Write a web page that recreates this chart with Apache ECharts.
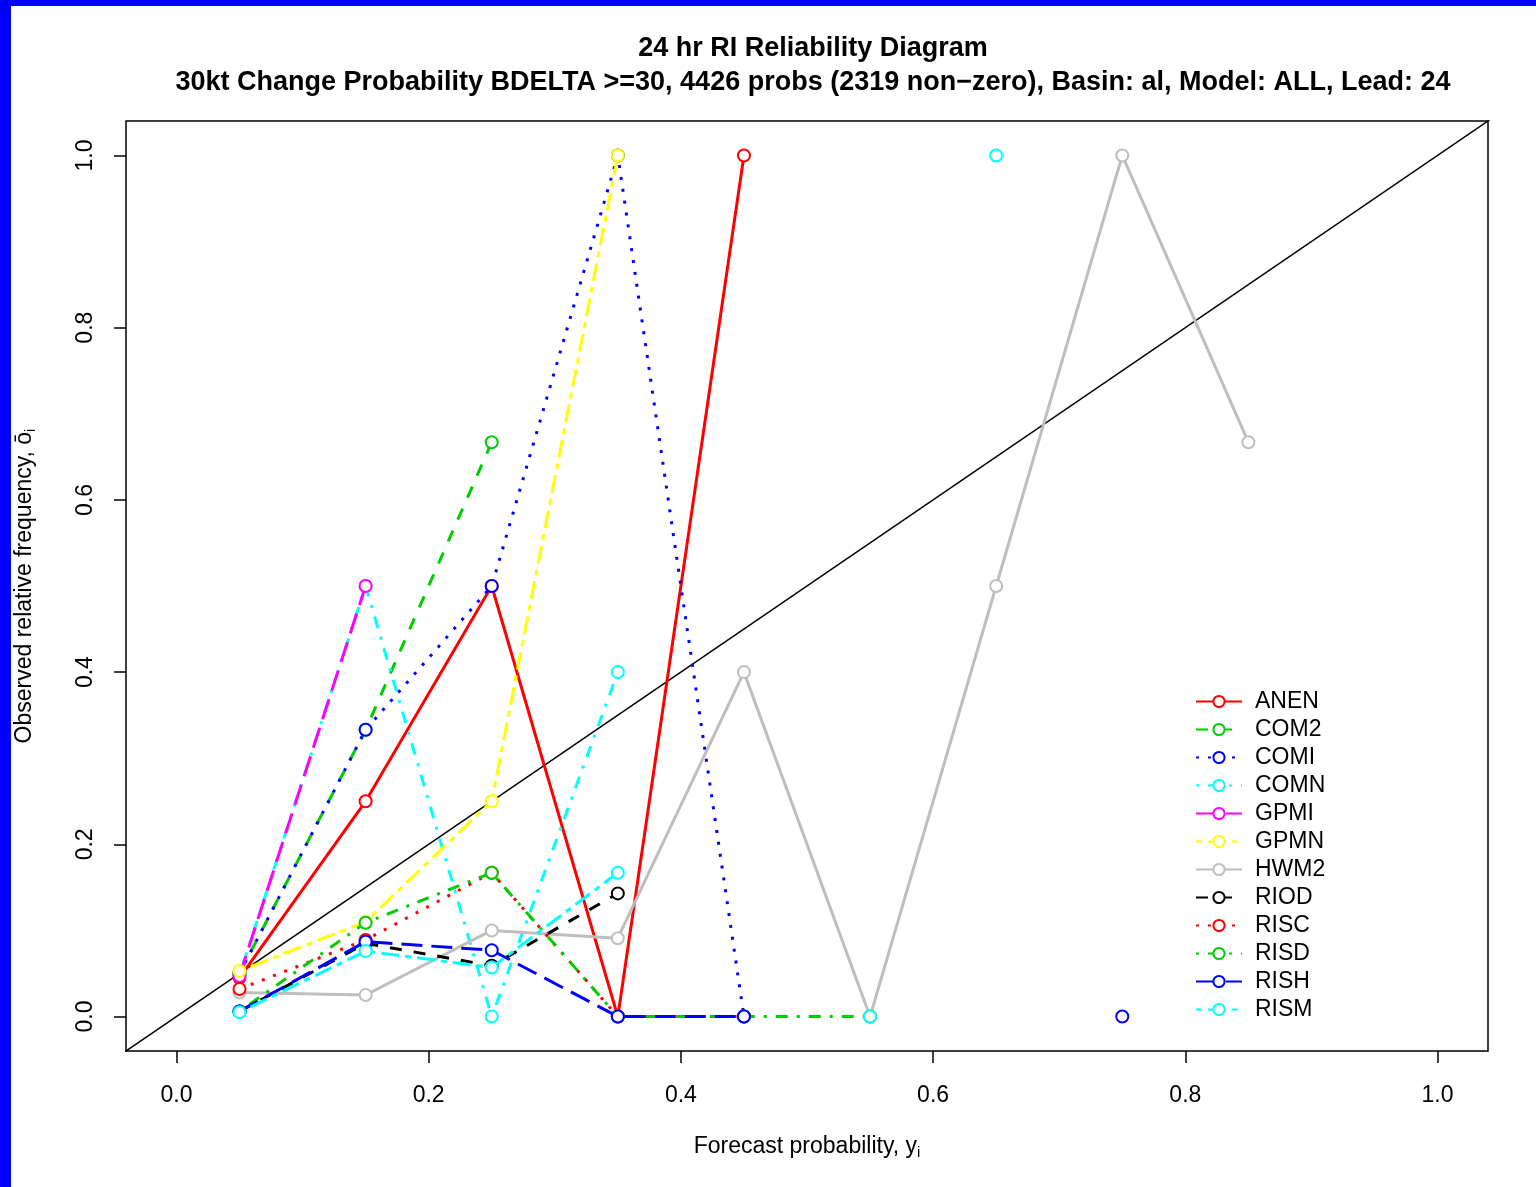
<!DOCTYPE html>
<html>
<head>
<meta charset="utf-8">
<script src="https://cdn.jsdelivr.net/npm/echarts@6/dist/echarts.min.js"></script>
<style>
  html, body { margin: 0; padding: 0; background: #0000ff; }
  #chart { position: absolute; left: 11px; top: 6px; width: 1525px; height: 1181px; background: #fff; }
</style>
</head>
<body>
<div id="chart"></div>
<script>
// forecast probability bins (x)
var bins = [0.05, 0.15, 0.25, 0.35, 0.45, 0.55, 0.65, 0.75, 0.85, 0.95];

// observed relative frequency per model, null = no forecasts in that bin
var ANEN = [0.045, 0.25, 0.5, 0.0, 1.0, null, null, null, null, null];
var COM2 = [0.05, 0.333, 0.667, null, null, null, null, null, null, null];
var COMI = [0.05, 0.333, 0.5, 1.0, 0.0, null, null, 0.0, null, null];
var COMN = [0.048, 0.5, 0.0, 0.4, null, null, 1.0, null, null, null];
var GPMI = [0.047, 0.5, null, null, null, null, null, null, null, null];
var GPMN = [0.053, 0.11, 0.25, 1.0, null, null, null, null, null, null];
var HWM2 = [0.028, 0.025, 0.1, 0.091, 0.4, 0.0, 0.5, 1.0, 0.667, null];
var RIOD = [0.006, 0.085, 0.059, 0.143, null, null, null, null, null, null];
var RISC = [0.032, 0.089, 0.167, 0.0, 0.0, null, null, null, null, null];
var RISD = [0.006, 0.109, 0.167, 0.0, 0.0, 0.0, null, null, null, null];
var RISH = [0.006, 0.087, 0.077, 0.0, 0.0, null, null, null, null, null];
var RISM = [0.005, 0.076, 0.057, 0.167, null, 0.0, null, null, null, null];

var models = ['ANEN', 'COM2', 'COMI', 'COMN', 'GPMI', 'GPMN', 'HWM2', 'RIOD', 'RISC', 'RISD', 'RISH', 'RISM'];
var values = [ANEN, COM2, COMI, COMN, GPMI, GPMN, HWM2, RIOD, RISC, RISD, RISH, RISM];

// R palette / lty cycling
var colors = ['#ff0000', '#00cd00', '#0000ff', '#00ffff', '#ff00ff', '#ffff00', '#bebebe', '#000000'];
var ltys = ['solid', [12, 12], [3, 9], [3, 9, 12, 9], [21, 9], [6, 6, 18, 6]];

var ticks = [0, 0.2, 0.4, 0.6, 0.8, 1.0];
var font = '"Liberation Sans", Arial, Helvetica, sans-serif';

var series = [];
series.push({
  name: 'diag',
  type: 'line',
  data: [[-1, -1], [2, 2]],
  symbol: 'none',
  silent: true,
  clip: true,
  lineStyle: { color: '#000', width: 1.5 },
  z: 1
});

for (var i = 0; i < models.length; i++) {
  var pts = [];
  for (var j = 0; j < bins.length; j++) {
    pts.push([bins[j], values[i][j] === null ? '-' : values[i][j]]);
  }
  var col = colors[i % 8];
  series.push({
    name: models[i],
    type: 'line',
    data: pts,
    symbol: 'emptyCircle',
    symbolSize: 12,
    showSymbol: true,
    connectNulls: false,
    animation: false,
    itemStyle: { color: col, borderColor: col, borderWidth: 3 },
    lineStyle: { color: col, width: 3, type: ltys[i % 6], cap: 'butt' },
    z: 2 + i
  });
}

var nameRich = {
  s: { fontFamily: font, fontSize: 23, color: '#000' },
  sub: { fontFamily: font, fontSize: 15, color: '#000', verticalAlign: 'bottom', padding: [11, 0, 0, 0] }
};

var option = {
  animation: false,
  backgroundColor: '#fff',
  title: [
    {
      text: '24 hr RI Reliability Diagram',
      left: 797, top: 24, textAlign: 'center',
      textStyle: { fontFamily: font, fontSize: 27, fontWeight: 'bold', color: '#000' }
    },
    {
      text: '30kt Change Probability BDELTA >=30, 4426 probs (2319 non\u2212zero), Basin: al, Model: ALL, Lead: 24',
      left: 797, top: 58, textAlign: 'center',
      textStyle: { fontFamily: font, fontSize: 27, fontWeight: 'bold', color: '#000' }
    }
  ],
  grid: {
    left: 115, right: 48, top: 115, bottom: 136,
    outerBoundsMode: 'none',
    containLabel: false,
    show: true, borderColor: '#000', borderWidth: 1.5, backgroundColor: 'transparent'
  },
  legend: {
    orient: 'vertical',
    left: 1179, top: 679,
    data: models,
    itemWidth: 46, itemHeight: 14, itemGap: 5,
    textStyle: { fontFamily: font, fontSize: 23, color: '#000', padding: [0, 0, 0, 8] }
  },
  xAxis: {
    type: 'value',
    min: -0.04, max: 1.04,
    name: 'Forecast probability, {s|y}{sub|i}',
    nameLocation: 'middle', nameGap: 83,
    nameTextStyle: { fontFamily: font, fontSize: 23, color: '#000', rich: nameRich },
    splitLine: { show: false },
    axisLine: { show: false, onZero: false },
    axisTick: { show: true, length: 12, customValues: ticks, lineStyle: { color: '#000', width: 1.5 } },
    axisLabel: {
      customValues: ticks, margin: 33,
      fontFamily: font, fontSize: 23, color: '#000',
      formatter: function (v) { return v.toFixed(1); }
    }
  },
  yAxis: {
    type: 'value',
    min: -0.04, max: 1.04,
    name: 'Observed relative frequency, {s|\u014d}{sub|i}',
    nameLocation: 'middle', nameGap: 88, nameRotate: 90,
    nameTextStyle: { fontFamily: font, fontSize: 23, color: '#000', rich: nameRich },
    splitLine: { show: false },
    axisLine: { show: false, onZero: false },
    axisTick: { show: true, length: 12, customValues: ticks, lineStyle: { color: '#000', width: 1.5 } },
    axisLabel: {
      customValues: ticks, margin: 29, rotate: 90,
      fontFamily: font, fontSize: 23, color: '#000',
      formatter: function (v) { return v.toFixed(1); }
    }
  },
  series: series
};

var myChart = echarts.init(document.getElementById('chart'));
myChart.setOption(option);
</script>
</body>
</html>
